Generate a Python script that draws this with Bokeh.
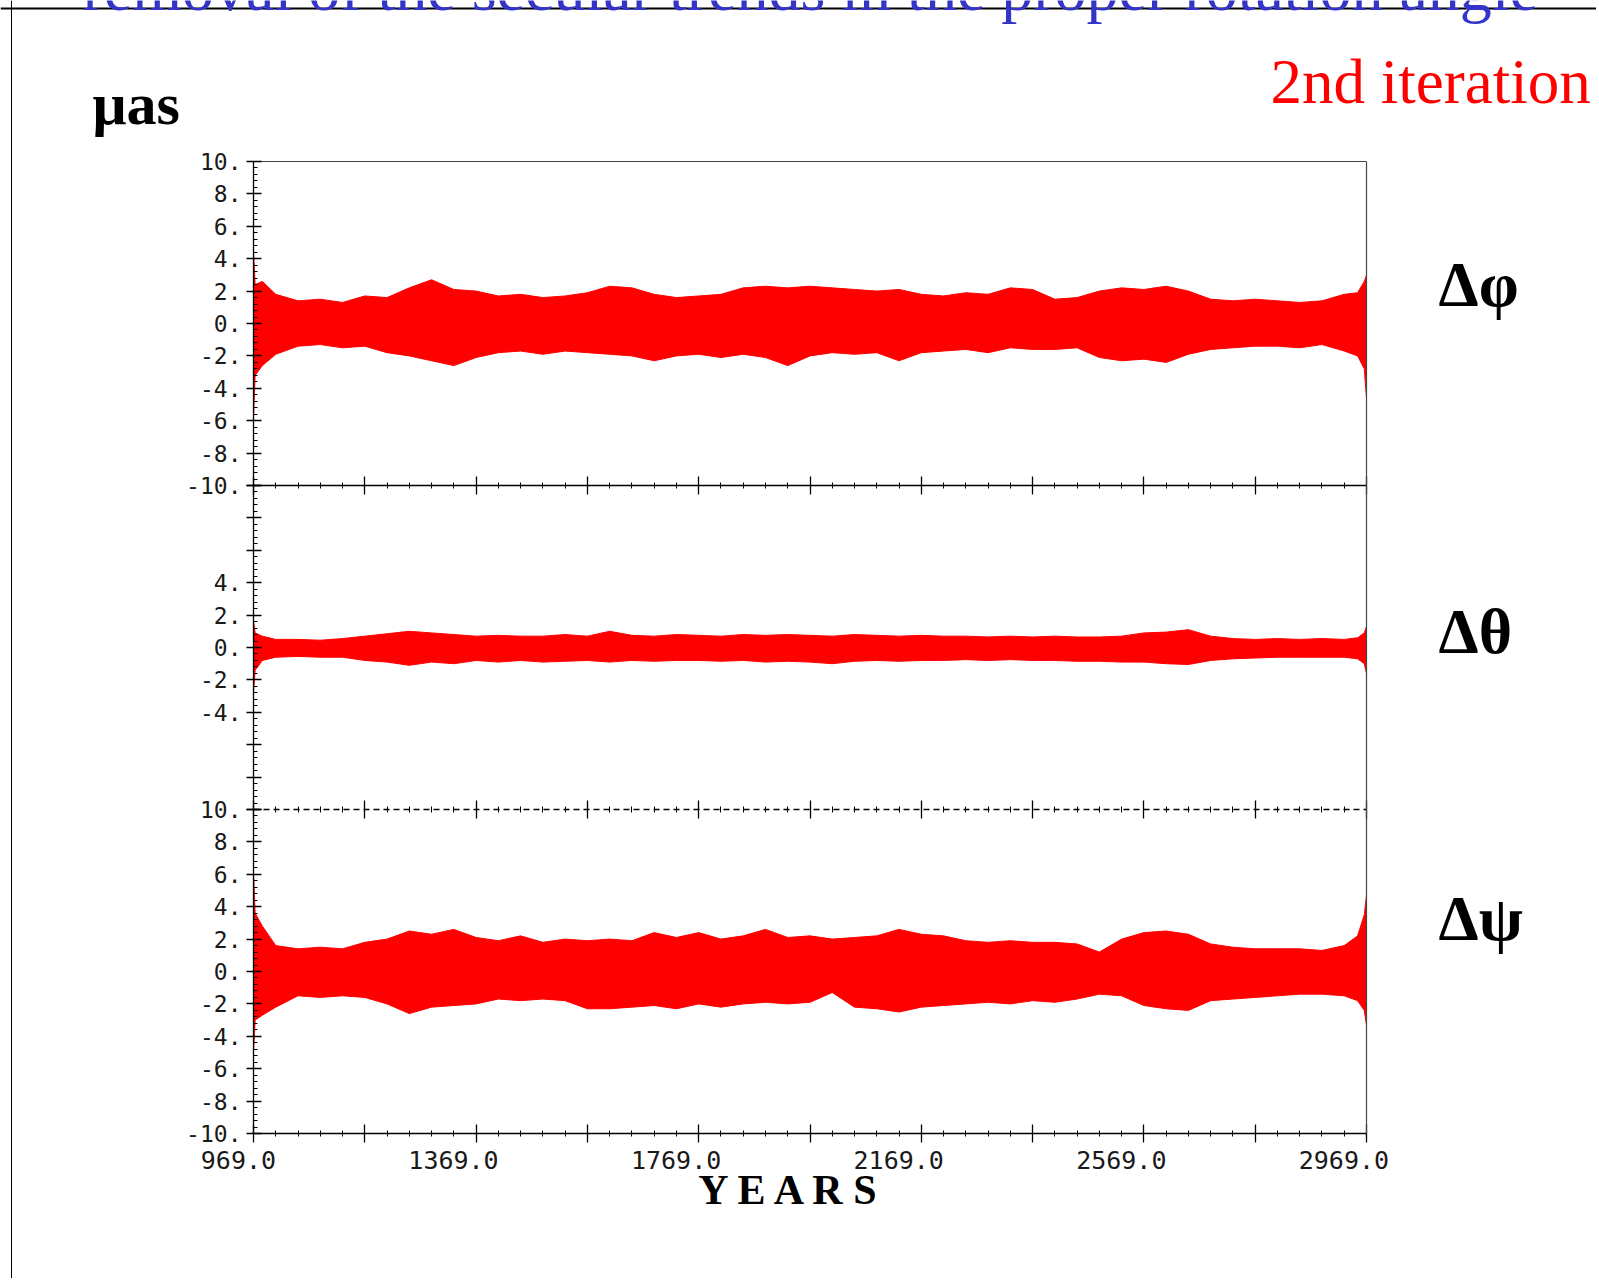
from bokeh.plotting import figure
from bokeh.models import (Range1d, LinearAxis, FixedTicker, PrintfTickFormatter,
                          Label, ColumnDataSource, Span)
from bokeh.embed import file_html
from bokeh.resources import INLINE

# ---------------- data ----------------
years = [969, 972, 985, 1009, 1049, 1089, 1129, 1169, 1209, 1249, 1289, 1329, 1369,
         1409, 1449, 1489, 1529, 1569, 1609, 1649, 1689, 1729, 1769,
         1809, 1849, 1889, 1929, 1969, 2009, 2049, 2089, 2129, 2169,
         2209, 2249, 2289, 2329, 2369, 2409, 2449, 2489, 2529, 2569,
         2609, 2649, 2689, 2729, 2769, 2809, 2849, 2889, 2929, 2953, 2965, 2969]

# delta phi : upper / lower envelope of the residual (micro-arcseconds)
dphi_hi = [4.4, 2.4, 2.6, 1.8, 1.4, 1.5, 1.3, 1.7, 1.6, 2.2, 2.7, 2.1, 2.0,
           1.7, 1.8, 1.6, 1.7, 1.9, 2.3, 2.2, 1.8, 1.6, 1.7,
           1.8, 2.2, 2.3, 2.2, 2.3, 2.2, 2.1, 2.0, 2.1, 1.8,
           1.7, 1.9, 1.8, 2.2, 2.1, 1.5, 1.6, 2.0, 2.2, 2.1,
           2.3, 2.0, 1.5, 1.4, 1.5, 1.4, 1.3, 1.4, 1.8, 1.9, 2.6, 3.0]
dphi_lo = [-5.8, -3.2, -2.6, -1.9, -1.4, -1.3, -1.5, -1.4, -1.8, -2.0, -2.3, -2.6, -2.1,
           -1.8, -1.7, -1.9, -1.7, -1.8, -1.9, -2.0, -2.3, -2.0, -1.9,
           -2.1, -1.9, -2.1, -2.6, -2.0, -1.8, -1.9, -1.8, -2.3, -1.8,
           -1.7, -1.6, -1.8, -1.5, -1.6, -1.6, -1.5, -2.1, -2.3, -2.2,
           -2.4, -1.9, -1.6, -1.5, -1.4, -1.4, -1.5, -1.3, -1.7, -2.0, -2.8, -4.6]

# delta theta
dtheta_hi = [1.6, 0.9, 0.7, 0.5, 0.5, 0.45, 0.55, 0.7, 0.85, 1.0, 0.9, 0.8, 0.7,
             0.75, 0.7, 0.7, 0.8, 0.7, 1.0, 0.75, 0.7, 0.8, 0.75,
             0.7, 0.8, 0.75, 0.8, 0.75, 0.7, 0.8, 0.75, 0.7, 0.75,
             0.7, 0.7, 0.65, 0.7, 0.65, 0.7, 0.65, 0.65, 0.7, 0.9,
             0.95, 1.1, 0.7, 0.55, 0.5, 0.55, 0.5, 0.55, 0.5, 0.6, 0.9, 1.3]
dtheta_lo = [-2.8, -1.4, -0.8, -0.6, -0.55, -0.6, -0.6, -0.8, -0.9, -1.1, -0.9, -1.0, -0.8,
             -0.9, -0.8, -0.9, -0.85, -0.8, -0.9, -0.8, -0.85, -0.8, -0.8,
             -0.85, -0.8, -0.9, -0.85, -0.9, -1.0, -0.85, -0.8, -0.85, -0.8,
             -0.8, -0.75, -0.8, -0.75, -0.8, -0.8, -0.85, -0.85, -0.9, -0.9,
             -1.0, -1.05, -0.8, -0.7, -0.65, -0.6, -0.6, -0.6, -0.6, -0.7, -1.0, -1.6]

# delta psi
dpsi_hi = [6.1, 3.6, 2.8, 1.6, 1.4, 1.5, 1.4, 1.8, 2.0, 2.5, 2.3, 2.6, 2.1,
           1.9, 2.2, 1.8, 2.0, 1.9, 2.0, 1.9, 2.4, 2.1, 2.4,
           2.0, 2.2, 2.6, 2.1, 2.2, 2.0, 2.1, 2.2, 2.6, 2.3,
           2.2, 1.9, 1.8, 1.9, 1.8, 1.8, 1.7, 1.2, 2.0, 2.4,
           2.5, 2.3, 1.7, 1.5, 1.4, 1.4, 1.4, 1.3, 1.6, 2.2, 3.5, 4.7]
dpsi_lo = [-5.0, -3.0, -2.7, -2.2, -1.5, -1.6, -1.5, -1.6, -2.0, -2.6, -2.2, -2.1, -2.0,
           -1.7, -1.8, -1.7, -1.8, -2.3, -2.3, -2.2, -2.1, -2.3, -2.0,
           -2.2, -2.0, -1.9, -2.0, -1.9, -1.3, -2.2, -2.3, -2.5, -2.2,
           -2.1, -2.0, -1.9, -2.0, -1.8, -1.9, -1.7, -1.4, -1.5, -2.1,
           -2.3, -2.4, -1.8, -1.7, -1.6, -1.5, -1.4, -1.4, -1.5, -1.8, -2.4, -3.3]

# ticks
x_major = [969, 1169, 1369, 1569, 1769, 1969, 2169, 2369, 2569, 2769, 2969]
x_minor = [969 + 40 * i for i in range(51)]
x_tick_labels = {969: "969.0\u00a0\u00a0", 1369: "1369.0\u00a0\u00a0\u00a0",
                 1769: "1769.0\u00a0\u00a0\u00a0", 2169: "2169.0\u00a0\u00a0\u00a0",
                 2569: "2569.0\u00a0\u00a0\u00a0", 2969: "2969.0\u00a0\u00a0\u00a0"}
y_major = [-10, -8, -6, -4, -2, 0, 2, 4, 6, 8, 10]
y_minor = [round(-10 + 0.4 * i, 1) for i in range(51)]
mid_hidden = [10, 8, 6, -6, -8, -10]

TICK_FONT = "DejaVu Sans Mono"
SERIF = "Liberation Serif"

# ---------------- geometry (page pixels) ----------------
W, H = 1596, 1278
FX0, FX1 = 253, 1366            # left / right edge of the panels
PY = [161, 485, 809, 1133]      # panel boundaries (top -> bottom)
xs = 2000.0 / (FX1 - FX0)       # years per pixel
yu = 20.0 / (PY[2] - PY[1])     # units per pixel
x_lo, x_hi = 969 - FX0 * xs, 969 + (W - FX0) * xs
y_top = 10 + PY[1] * yu
y_bot = -10 - (H - PY[2]) * yu

p = figure(width=W, height=H, x_range=Range1d(x_lo, x_hi), y_range=Range1d(y_bot, y_top),
           output_backend="svg", toolbar_location=None,
           x_axis_type=None, y_axis_type=None,
           min_border=0, outline_line_color=None,
           background_fill_color="white", border_fill_color="white")
p.extra_y_ranges = {"p1": Range1d(y_bot - 20, y_top - 20), "p3": Range1d(y_bot + 20, y_top + 20)}

# slide frame lines
p.add_layout(Span(location=H - 8, location_units="screen", dimension="width",
                  line_color="black", line_width=2))
p.add_layout(Span(location=11, location_units="screen", dimension="height",
                  line_color="black", line_width=1))

# data bands
for hi, lo, rn in [(dphi_hi, dphi_lo, "p1"), (dtheta_hi, dtheta_lo, "default"),
                   (dpsi_hi, dpsi_lo, "p3")]:
    src = ColumnDataSource(dict(x=years, hi=hi, lo=lo))
    p.varea(x="x", y1="lo", y2="hi", source=src, fill_color="#ff0000", y_range_name=rn)
    p.line(x="x", y="hi", source=src, line_color="#ff0000", line_width=1, y_range_name=rn)
    p.line(x="x", y="lo", source=src, line_color="#ff0000", line_width=1, y_range_name=rn)


def style_axis(ax, font_size):
    ax.axis_line_color = "black"
    ax.axis_line_width = 1.3
    ax.major_tick_line_color = "black"
    ax.minor_tick_line_color = "black"
    ax.major_tick_line_width = 1.3
    ax.minor_tick_line_width = 1
    ax.major_label_text_font = TICK_FONT
    ax.major_label_text_font_size = font_size
    ax.major_label_text_color = "#1a1a1a"


# gray frame lines (top and right)
top = LinearAxis(fixed_location=30, bounds=(969, 2969), ticker=FixedTicker(ticks=[]),
                 axis_line_color="#444444", axis_line_width=1.2,
                 major_tick_in=0, major_tick_out=0, minor_tick_in=0, minor_tick_out=0)
p.add_layout(top, "above")
right = LinearAxis(fixed_location=2969, bounds=(-30, 30), ticker=FixedTicker(ticks=[]),
                   axis_line_color="#444444", axis_line_width=1.2,
                   major_tick_in=0, major_tick_out=0, minor_tick_in=0, minor_tick_out=0)
p.add_layout(right, "right")

# left axes, one per panel, all at the left edge of the panels
for rn, overrides in [("p1", {}), ("default", {v: "" for v in mid_hidden}), ("p3", {})]:
    ax = LinearAxis(y_range_name=rn, fixed_location=969, bounds=(-10, 10),
                    ticker=FixedTicker(ticks=y_major, minor_ticks=y_minor),
                    formatter=PrintfTickFormatter(format="%d."),
                    major_label_overrides=overrides)
    style_axis(ax, "23px")
    ax.major_tick_in = 8
    ax.major_tick_out = 7
    ax.minor_tick_in = 4
    ax.minor_tick_out = 0
    ax.major_label_standoff = 5
    p.add_layout(ax, "left")

# separator axes between panels
for loc, dash in [(10, "solid"), (-10, "6 4")]:
    ax = LinearAxis(fixed_location=loc, bounds=(969, 2969),
                    ticker=FixedTicker(ticks=x_major, minor_ticks=x_minor),
                    major_label_overrides={v: "" for v in x_major})
    style_axis(ax, "22px")
    ax.axis_line_dash = dash
    ax.major_tick_in = 9
    ax.major_tick_out = 9
    ax.minor_tick_in = 3
    ax.minor_tick_out = 3
    p.add_layout(ax, "below")

# bottom axis with year labels
xl = {v: x_tick_labels.get(v, "") for v in x_major}
ax = LinearAxis(fixed_location=-30, bounds=(969, 2969),
                ticker=FixedTicker(ticks=x_major, minor_ticks=x_minor),
                major_label_overrides=xl)
style_axis(ax, "25px")
ax.major_tick_in = 9
ax.major_tick_out = 9
ax.minor_tick_in = 3
ax.minor_tick_out = 3
ax.major_label_standoff = 3
p.add_layout(ax, "below")


# texts (screen units: x from left, y from bottom of the canvas);
# py is the wanted baseline in page pixels, corrected for the label's descent
def lab(text, px, py, size, color="black", bold=False, align="left"):
    shift = 0.34 * size
    p.add_layout(Label(x=px, y=H - (py - shift), x_units="screen", y_units="screen",
                       text=text, text_font=SERIF, text_font_size=f"{size}px",
                       text_color=color, text_font_style="bold" if bold else "normal",
                       text_align=align, text_baseline="alphabetic"))


lab("removal of the secular trends in the proper rotation angle", 82, 10, 64,
    color="#3434c8")
lab("2nd iteration", 1270, 103, 63, color="#ff0000")
lab("μas", 92, 124, 60, bold=True)
lab("Δφ", 1438, 306, 64, bold=True)
lab("Δθ", 1438, 653, 64, bold=True)
lab("Δψ", 1438, 940, 64, bold=True)
lab("Y E A R S", 790, 1204, 42, bold=True, align="center")

open("out.html", "w").write(file_html(p, INLINE))
